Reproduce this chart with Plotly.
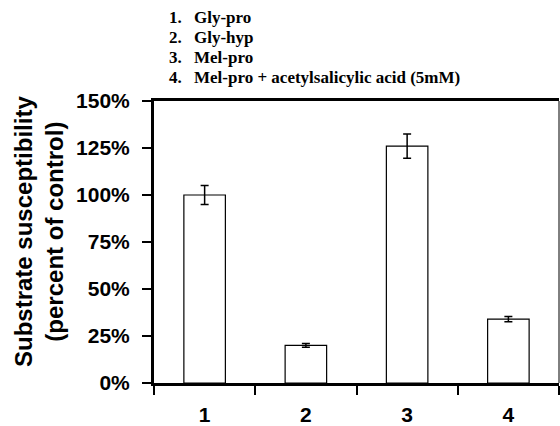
import plotly.graph_objects as go

categories = ["1", "2", "3", "4"]
values = [100, 20, 126, 34]
errors = [5, 1, 6.5, 1.4]
y_ticks = [0, 25, 50, 75, 100, 125, 150]
y_tick_labels = ["0%", "25%", "50%", "75%", "100%", "125%", "150%"]
legend_numbers = ["1.", "2.", "3.", "4."]
legend_labels = ["Gly-pro", "Gly-hyp", "Mel-pro", "Mel-pro + acetylsalicylic acid (5mM)"]

W, H = 560, 426
L, R, T, B = 154, 1, 101, 43
pw, ph = W - L - R, H - T - B

def px_x(x):
    return (x - L) / pw

def px_y(y):
    return (H - B - y) / ph

fig = go.Figure()
fig.add_trace(go.Bar(
    x=categories, y=values,
    marker=dict(color="white", line=dict(color="black", width=1.2)),
    error_y=dict(type="data", array=errors, color="black", thickness=1.5, width=4),
))

ann = []
for i, (n, lab) in enumerate(zip(legend_numbers, legend_labels)):
    yc = 17 + i * 20.3
    ann.append(dict(text=n, x=px_x(167), y=px_y(yc), xref="paper", yref="paper",
                    xanchor="left", yanchor="middle", showarrow=False,
                    font=dict(family="Liberation Serif", size=17, color="black", weight="bold")))
    ann.append(dict(text=lab, x=px_x(192), y=px_y(yc), xref="paper", yref="paper",
                    xanchor="left", yanchor="middle", showarrow=False,
                    font=dict(family="Liberation Serif", size=17, color="black", weight="bold")))

ann.append(dict(text="Substrate susceptibility<br>(percent of control)",
                x=px_x(39), y=px_y(232), xref="paper", yref="paper",
                xanchor="center", yanchor="middle", showarrow=False, textangle=-90,
                font=dict(family="Liberation Sans", size=24, color="black", weight="bold")))

fig.update_layout(
    width=W, height=H,
    margin=dict(l=L, r=R, t=T, b=B, pad=0, autoexpand=False),
    paper_bgcolor="white", plot_bgcolor="white",
    showlegend=False, bargap=0.59,
    annotations=ann,
    shapes=[dict(type="line", xref="paper", yref="paper", x0=1, x1=1, y0=0, y1=1,
                 line=dict(color="black", width=1))],
)
fig.update_xaxes(
    type="category", tickson="boundaries", ticks="outside", ticklen=9, tickwidth=2,
    tickcolor="black", showline=True, linewidth=3, linecolor="black", mirror=True,
    showgrid=False, ticklabelstandoff=11, automargin=False,
    tickfont=dict(family="Liberation Sans", size=21, color="black", weight="bold"),
)
fig.update_yaxes(
    range=[0, 150], tickmode="array", tickvals=y_ticks, ticktext=y_tick_labels,
    ticks="outside", ticklen=9, automargin=False,
    tickwidth=2, tickcolor="black", showline=True, linewidth=3, linecolor="black",
    showgrid=False, zeroline=False, ticklabelstandoff=8,
    tickfont=dict(family="Liberation Sans", size=21, color="black", weight="bold"),
)

fig.write_html("out.html")
